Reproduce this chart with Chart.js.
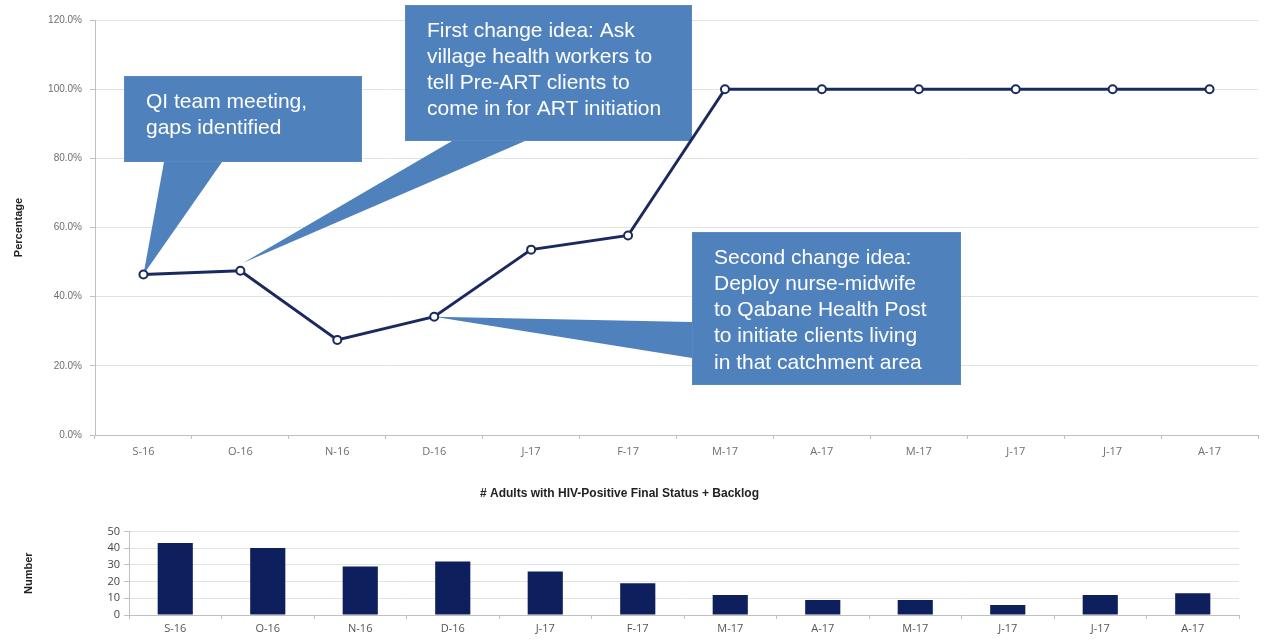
<!DOCTYPE html>
<html>
<head>
<meta charset="utf-8">
<script src="https://cdn.jsdelivr.net/npm/chart.js@4.4.1/dist/chart.umd.min.js"></script>
<style>
  body { margin: 0; background: #fff; }
  #wrap { position: relative; width: 1264px; height: 641px; }
  #top-box { position: absolute; left: 0; top: 0; width: 1264px; height: 470px; }
  #bottom-box { position: absolute; left: 0; top: 470px; width: 1264px; height: 171px; }
</style>
</head>
<body>
<div id="wrap">
  <div id="top-box"><canvas id="pct-chart" width="1264" height="470"></canvas></div>
  <div id="bottom-box"><canvas id="backlog-chart" width="1264" height="171"></canvas></div>
</div>
<script>
// Chart values
const months = ['S-16', 'O-16', 'N-16', 'D-16', 'J-17', 'F-17', 'M-17', 'A-17', 'M-17', 'J-17', 'J-17', 'A-17'];
const percentInitiated = [46.4, 47.5, 27.5, 34.2, 53.6, 57.7, 100, 100, 100, 100, 100, 100];
const backlogCounts = [43, 40, 29, 32, 26, 19, 12, 9, 9, 6, 12, 13];
const percentTicks = [0, 20, 40, 60, 80, 100, 120];
const countTicks = [0, 10, 20, 30, 40, 50];

// Callout texts and which month they point at
const calloutTexts = [
    ['QI team meeting,', 'gaps identified'],
    ['First change idea: Ask', 'village health workers to', 'tell Pre-ART clients to', 'come in for ART initiation'],
    ['Second change idea:', 'Deploy nurse-midwife', 'to Qabane Health Post', 'to initiate clients living', 'in that catchment area']
];
const calloutMonths = [0, 1, 3];

document.addEventListener('DOMContentLoaded', function() {
    const yTickFont = { family: "'Liberation Sans', Arial, sans-serif", size: 10 };
    const xTickFont = { family: "'Open Sans', 'Liberation Sans', sans-serif", size: 11 };
    const tickColor = '#6e6e6e';
    const gridColor = '#e2e2e2';
    const axisColor = '#c0c0c0';

    // box rect, tail base points, small tip offset (layout only)
    const calloutLayout = [
        { x: 124, y: 76, w: 238, h: 86, base: [[164, 162], [222, 162]], tipOff: [0, 0] },
        { x: 405, y: 5, w: 287, h: 136, base: [[452, 141], [525, 141]], tipOff: [3, -8] },
        { x: 692, y: 232, w: 269, h: 153, base: [[692, 322], [692, 358]], tipOff: [0, 0] }
    ];

    const calloutPlugin = {
        id: 'callouts',
        beforeDatasetsDraw(chart) {
            const c = chart.ctx;
            const xs = chart.scales.x, ys = chart.scales.y;
            c.save();
            calloutLayout.forEach((box, i) => {
                const m = calloutMonths[i];
                const tipX = xs.getPixelForValue(m) + box.tipOff[0];
                const tipY = ys.getPixelForValue(percentInitiated[m]) + box.tipOff[1];
                c.fillStyle = '#4f81bd';
                c.strokeStyle = '#5a89c2';
                c.lineWidth = 1;
                // tail
                c.beginPath();
                c.moveTo(box.base[0][0], box.base[0][1]);
                c.lineTo(tipX, tipY);
                c.lineTo(box.base[1][0], box.base[1][1]);
                c.closePath();
                c.fill();
                // box
                c.fillRect(box.x, box.y, box.w, box.h);
                c.strokeRect(box.x + 0.5, box.y + 0.5, box.w - 1, box.h - 1);
                // text
                c.fillStyle = '#ffffff';
                c.font = "21px 'Liberation Sans', Arial, sans-serif";
                c.textAlign = 'left';
                c.textBaseline = 'middle';
                calloutTexts[i].forEach((line, k) => {
                    c.fillText(line, box.x + 22, box.y + 26 + k * 26.2);
                });
            });
            c.restore();
        }
    };

    // Top chart: percentage
    const pctCtx = document.getElementById('pct-chart').getContext('2d');
    const pctChart = new Chart(pctCtx, {
        type: 'line',
        data: {
            labels: months,
            datasets: [{
                data: percentInitiated,
                borderColor: '#1b2a5e',
                borderWidth: 3,
                pointRadius: 4,
                pointBorderWidth: 2,
                pointBackgroundColor: '#ffffff',
                pointBorderColor: '#1b2a5e',
                tension: 0,
                fill: false
            }]
        },
        options: {
            responsive: false,
            animation: false,
            layout: { padding: { top: 20, right: 6, left: 0, bottom: 0 } },
            plugins: { legend: { display: false }, tooltip: { enabled: false } },
            scales: {
                x: {
                    offset: true,
                    grid: { display: true, drawOnChartArea: false, offset: true, tickLength: 4, color: axisColor },
                    border: { color: axisColor },
                    ticks: { font: xTickFont, color: tickColor, padding: 6, maxRotation: 0, autoSkip: false },
                    afterFit: s => { s.height = 35; }
                },
                y: {
                    min: 0,
                    max: 120,
                    afterBuildTicks: s => { s.ticks = percentTicks.map(v => ({ value: v })); },
                    grid: { color: gridColor, tickLength: 5, tickColor: axisColor },
                    border: { color: axisColor },
                    ticks: {
                        font: yTickFont, color: tickColor, padding: 8,
                        callback: v => v.toFixed(1) + '%'
                    },
                    title: {
                        display: true, text: 'Percentage', color: '#222',
                        font: { family: "'Liberation Sans', Arial, sans-serif", size: 11, weight: 'bold' },
                        padding: { top: 12, bottom: 0 }
                    },
                    afterFit: s => { s.width = 95; }
                }
            }
        },
        plugins: [calloutPlugin]
    });

    // Bottom chart: backlog counts
    const countCtx = document.getElementById('backlog-chart').getContext('2d');
    const countChart = new Chart(countCtx, {
        type: 'bar',
        data: {
            labels: months,
            datasets: [{
                data: backlogCounts,
                backgroundColor: '#0e1f5e',
                barPercentage: 0.38,
                categoryPercentage: 1.0
            }]
        },
        options: {
            responsive: false,
            animation: false,
            layout: { padding: { top: 0, right: 25, left: 0, bottom: 0 } },
            plugins: {
                legend: { display: false },
                tooltip: { enabled: false },
                title: {
                    display: true,
                    text: '# Adults with HIV-Positive Final Status + Backlog',
                    color: '#222',
                    font: { family: "'Liberation Sans', Arial, sans-serif", size: 12, weight: 'bold' },
                    padding: { top: 16, bottom: 31 }
                }
            },
            scales: {
                x: {
                    grid: { display: true, drawOnChartArea: false, offset: true, tickLength: 4, color: axisColor },
                    border: { color: axisColor },
                    ticks: { font: xTickFont, color: '#555', padding: 3, maxRotation: 0, autoSkip: false },
                    afterFit: s => { s.height = 26; }
                },
                y: {
                    min: 0,
                    max: 50,
                    afterBuildTicks: s => { s.ticks = countTicks.map(v => ({ value: v })); },
                    grid: { color: gridColor, tickLength: 5, tickColor: axisColor },
                    border: { color: axisColor },
                    ticks: { font: { family: "'Open Sans', 'Liberation Sans', sans-serif", size: 11 }, color: '#444', padding: 4 },
                    title: {
                        display: true, text: 'Number', color: '#222',
                        font: { family: "'Liberation Sans', Arial, sans-serif", size: 11, weight: 'bold' },
                        padding: { top: 22, bottom: 0 }
                    },
                    afterFit: s => { s.width = 129; }
                }
            }
        }
    });
});
</script>
</body>
</html>
